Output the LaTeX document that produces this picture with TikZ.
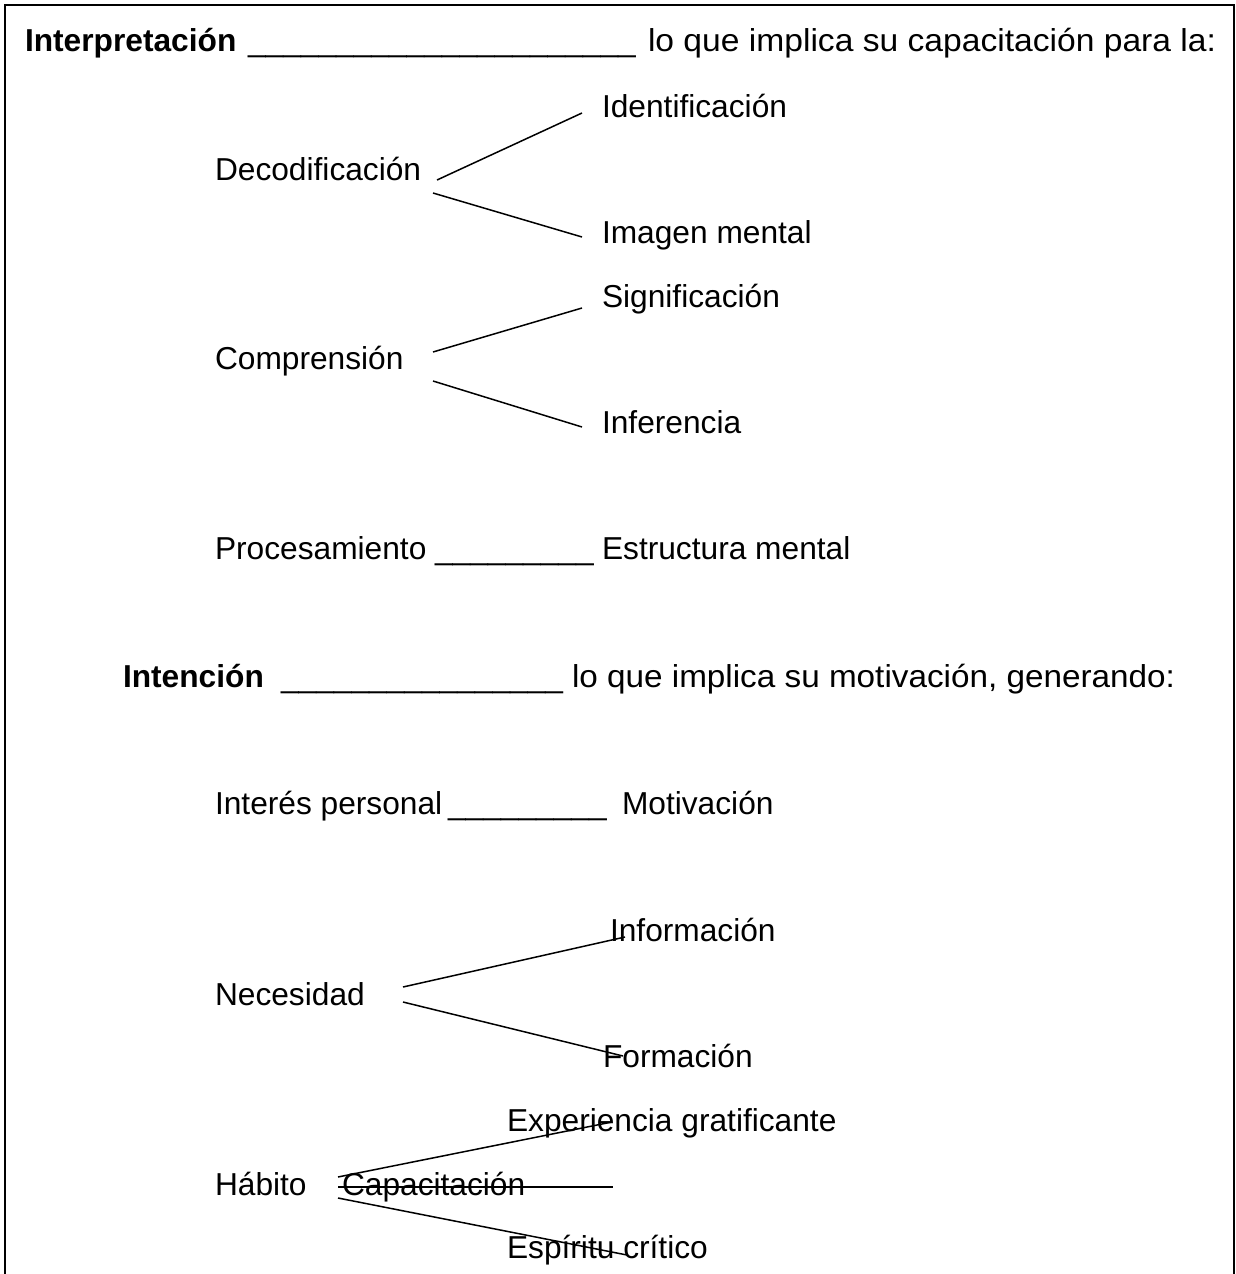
\documentclass[tikz,border=0pt]{standalone}
\usepackage{fontspec}
\usepackage{graphicx}
\setmainfont{Liberation Sans}
\newcommand{\blk}[1]{\foreach \i in {1,...,#1}{\_}}
\begin{document}
\begin{tikzpicture}[x=1pt,y=-1pt,
  txt/.style={anchor=base west, inner sep=0pt, outer sep=0pt, font=\fontsize{31.7}{38}\selectfont},
  bld/.style={txt, font=\fontsize{31.7}{38}\selectfont\bfseries},
  conn/.style={line width=1.5pt},
  frame/.style={line width=2pt}]
\useasboundingbox (0,0) rectangle (1236,1274);
\draw[frame] (5,1274) -- (5,5) -- (1234,5) -- (1234,1274);

% Interpretacion line
\node[bld] (t1) at (25,51) {Interpretación};
\node[txt] (t1u) at (248,51) {\blk{22}};
\node[txt] (t1r) at (648,51) {\resizebox{568pt}{\height}{lo que implica su capacitación para la:}};

% Decodificacion
\node[txt] (ident) at (602,117) {Identificación};
\node[txt] (deco) at (215,180) {Decodificación};
\node[txt] (imag) at (602,243) {Imagen mental};
\coordinate (deco-a) at (437,180);
\coordinate (deco-b) at (433,193);
\coordinate (ident-e) at (582,113);
\coordinate (imag-e) at (582,237);
\draw[conn] (deco-a) -- (ident-e);
\draw[conn] (deco-b) -- (imag-e);

% Comprension
\node[txt] (sig) at (602,307) {Significación};
\node[txt] (comp) at (215,369) {Comprensión};
\node[txt] (inf) at (602,433) {Inferencia};
\coordinate (comp-a) at (433,352);
\coordinate (comp-b) at (433,381);
\coordinate (sig-e) at (582,308);
\coordinate (inf-e) at (582,427);
\draw[conn] (comp-a) -- (sig-e);
\draw[conn] (comp-b) -- (inf-e);

% Procesamiento
\node[txt] (proc) at (215,559) {Procesamiento};
\node[txt] (procu) at (435,559) {\blk{9}};
\node[txt] (estr) at (602,559) {Estructura mental};

% Intencion
\node[bld] (int) at (123,687) {Intención};
\node[txt] (intu) at (281,687) {\blk{16}};
\node[txt] (intr) at (572,687) {\resizebox{603pt}{\height}{lo que implica su motivación, generando:}};

% Interes personal
\node[txt] (inter) at (215,814) {Interés personal};
\node[txt] (interu) at (448,814) {\blk{9}};
\node[txt] (motiv) at (622,814) {Motivación};

% Necesidad
\node[txt] (info) at (610,941) {Información};
\node[txt] (nec) at (215,1005) {Necesidad};
\node[txt] (form) at (603,1067) {Formación};
\coordinate (nec-a) at (403,987);
\coordinate (nec-b) at (403,1002);
\coordinate (info-e) at (625,937);
\coordinate (form-e) at (623,1056);
\draw[conn] (nec-a) -- (info-e);
\draw[conn] (nec-b) -- (form-e);

% Habito
\node[txt] (exp) at (507,1131) {Experiencia gratificante};
\node[txt] (hab) at (215,1195) {Hábito};
\node[txt] (cap) at (342,1195) {Capacitación};
\node[txt] (esp) at (507,1258) {Espíritu crítico};
\coordinate (hab-a) at (338,1177);
\coordinate (hab-m) at (338,1187);
\coordinate (hab-b) at (338,1198);
\coordinate (exp-e) at (612,1122);
\coordinate (cap-e) at (613,1187);
\coordinate (esp-e) at (627,1255);
\draw[conn] (hab-a) -- (exp-e);
\draw[conn] (hab-m) -- (cap-e);
\draw[conn] (hab-b) -- (esp-e);
\end{tikzpicture}
\end{document}
